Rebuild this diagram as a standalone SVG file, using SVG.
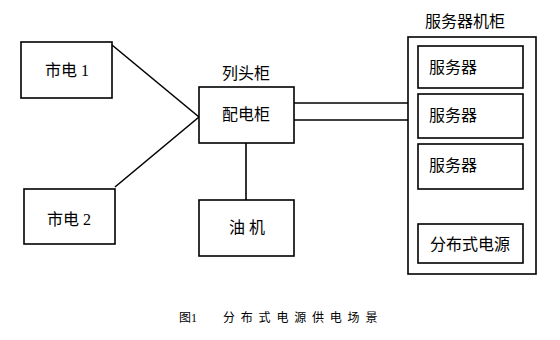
<svg xmlns="http://www.w3.org/2000/svg" width="560" height="340" viewBox="0 0 560 340">
<style>
rect{fill:#fff;stroke:#000;stroke-width:1.6}
line{stroke:#000;stroke-width:1.6}
text{font-family:"Liberation Serif","Noto Sans CJK SC",sans-serif;font-size:16px;fill:#000}
.c{text-anchor:middle}
.cap{font-size:12px}
.sp{letter-spacing:5.8px}
</style>
<rect width="560" height="340" style="fill:#fff;stroke:none"/>
<g id="connectors">
<line x1="112" y1="45" x2="199" y2="117"/>
<line x1="115" y1="187" x2="199" y2="117"/>
<line x1="246" y1="143" x2="246" y2="200"/>
<line x1="294" y1="103" x2="408" y2="103"/>
<line x1="294" y1="120" x2="408" y2="120"/>
</g>
<g id="grid1"><rect x="21" y="42" width="91" height="56"/><text class="c" x="67" y="76">市电 1</text></g>
<g id="grid2"><rect x="24" y="189" width="91" height="55"/><text class="c" x="69" y="225">市电 2</text></g>
<g id="pdu"><text class="c" x="246" y="79">列头柜</text><rect x="199" y="87" width="95" height="56"/><text class="c" x="246" y="120">配电柜</text></g>
<g id="generator"><rect x="199" y="200" width="95" height="56"/><text class="c" x="247" y="233">油 机</text></g>
<g id="rack"><text class="c" x="465" y="27">服务器机柜</text><rect x="408" y="37" width="128" height="237"/></g>
<g id="server1"><rect x="418" y="46" width="105" height="42"/><text x="429" y="73">服务器</text></g>
<g id="server2"><rect x="418" y="94" width="105" height="44"/><text x="429" y="121">服务器</text></g>
<g id="server3"><rect x="418" y="144" width="105" height="45"/><text x="429" y="171">服务器</text></g>
<g id="dps"><rect x="418" y="224" width="105" height="39"/><text class="c" x="470" y="250">分布式电源</text></g>
<text class="cap" x="179" y="322">图1</text>
<text class="cap sp" x="223" y="322">分布式电源供电场景</text>
</svg>
